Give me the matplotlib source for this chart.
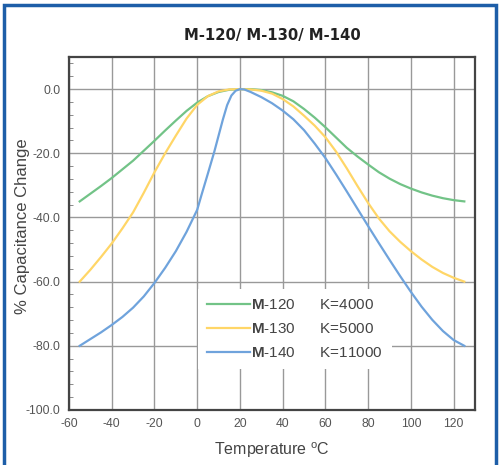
import matplotlib.pyplot as plt
from matplotlib.patches import Rectangle
from matplotlib.ticker import MultipleLocator

plt.rcParams["font.family"] = ["Liberation Sans", "DejaVu Sans"]
plt.rcParams["axes.unicode_minus"] = False
plt.rcParams["mathtext.fontset"] = "custom"
plt.rcParams["mathtext.rm"] = "Liberation Sans"
plt.rcParams["mathtext.bf"] = "Liberation Sans:bold"

# temperature (degC) and % capacitance change
temp_120 = [-55, -50, -45, -40, -35, -30, -25, -20, -15, -10, -5, 0, 5, 10, 15, 20, 25, 30, 35, 40,
            45, 50, 55, 60, 65, 70, 75, 80, 85, 90, 95, 100, 105, 110, 115, 120, 125]
cap_120 = [-35, -32.6, -30.2, -27.7, -25.0, -22.3, -19.2, -16.1, -12.9, -9.8, -6.8, -4.2, -2.2, -0.9,
           -0.2, 0, 0, -0.3, -1.0, -2.1, -3.8, -6.2, -8.9, -11.9, -15.1, -18.3, -21.0, -23.5, -25.9,
           -27.9, -29.6, -31.0, -32.2, -33.2, -34.0, -34.6, -35]

temp_130 = [-55, -50, -45, -40, -35, -30, -25, -20, -15, -10, -5, 0, 5, 10, 15, 20, 25, 30, 35, 40,
            45, 50, 55, 60, 65, 70, 75, 80, 85, 90, 95, 100, 105, 110, 115, 120, 125]
cap_130 = [-60, -56.3, -52.3, -48.1, -43.4, -38.4, -32.3, -25.9, -20.0, -14.5, -9.2, -4.9, -2.2, -0.7,
           -0.1, 0, -0.1, -0.5, -1.4, -3.1, -5.4, -8.3, -11.4, -15.0, -19.5, -24.7, -30.2, -35.5,
           -40.3, -44.3, -47.6, -50.5, -53.1, -55.4, -57.3, -58.8, -60]

temp_140 = [-55, -50, -45, -40, -35, -30, -25, -20, -15, -10, -5, 0, 2, 5, 8, 10, 12, 14, 16, 18, 20,
            22, 25, 30, 35, 40, 45, 50, 55, 60, 65, 70, 75, 80, 85, 90, 95, 100, 105, 110, 115, 120, 125]
cap_140 = [-80, -77.9, -75.8, -73.5, -71.0, -68.1, -64.6, -60.4, -55.7, -50.5, -44.5, -37.6, -33.0,
           -26.3, -19.5, -14.5, -9.5, -5.0, -2.0, -0.5, 0, -0.1, -0.9, -2.5, -4.4, -6.7, -9.4, -12.8,
           -17.0, -21.5, -26.6, -31.9, -37.3, -42.7, -48.0, -53.2, -58.3, -63.2, -67.8, -71.9, -75.4,
           -78.2, -80]

labels = ["$\\mathbf{M}$-120      K=4000", "$\\mathbf{M}$-130      K=5000", "$\\mathbf{M}$-140      K=11000"]
colors = ["#72c387", "#ffd667", "#6fa3dc"]

x_ticks = list(range(-60, 121, 20))
y_ticks = list(range(-100, 1, 20))

fig = plt.figure(figsize=(4.99, 4.65), dpi=100)
ax = fig.add_axes([0.1383, 0.1183, 0.8136, 0.7591])

# blue frame round the whole picture
fig.patches.append(Rectangle((4 / 499, -0.05), 492 / 499, 1.05 - 5 / 465,
                             transform=fig.transFigure, fill=False,
                             edgecolor="#1d5ea8", linewidth=2.5))

for t, c, lab, col in zip([temp_120, temp_130, temp_140], [cap_120, cap_130, cap_140], labels, colors):
    ax.plot(t, c, color=col, linewidth=1.6, label=lab, zorder=3)

ax.set_xlim(-60, 130)
ax.set_ylim(-100, 10)
ax.set_xticks(x_ticks)
ax.set_yticks(y_ticks)
ax.set_yticklabels([f"{v:.1f}" for v in y_ticks])
ax.yaxis.set_minor_locator(MultipleLocator(4))
ax.tick_params(axis="both", which="major", length=0, pad=6, labelsize=8.7, labelcolor="#555555")
ax.tick_params(axis="y", which="minor", direction="in", length=3, color="#777777")
ax.grid(True, which="major", color="#999999", linewidth=1.0, zorder=1)

for side in ["left", "bottom", "top", "right"]:
    ax.spines[side].set_color("#444444")
    ax.spines[side].set_linewidth(1.6)

ax.set_xlabel("Temperature $^\\mathrm{o}$C", fontsize=11.5, color="#444444", labelpad=7)
ax.set_ylabel("% Capacitance Change", fontsize=12, color="#444444")
ax.yaxis.set_label_coords(-0.097, 0.52)
ax.set_title("M-120/ M-130/ M-140", fontsize=10.7, fontweight="bold", color="#222222", pad=12,
             family="DejaVu Sans")

leg = ax.legend(loc="upper left", bbox_to_anchor=(0.318, 0.343), borderaxespad=0, frameon=True,
                fontsize=11, handlelength=2.8, handletextpad=0.05, labelspacing=0.66, borderpad=0.6)
leg.get_frame().set_facecolor("white")
leg.get_frame().set_edgecolor("none")
leg.get_frame().set_alpha(1)
leg.get_frame().set_boxstyle("square", pad=0)
for txt in leg.get_texts():
    txt.set_color("#444444")

fig.savefig("out.png", dpi=100)
